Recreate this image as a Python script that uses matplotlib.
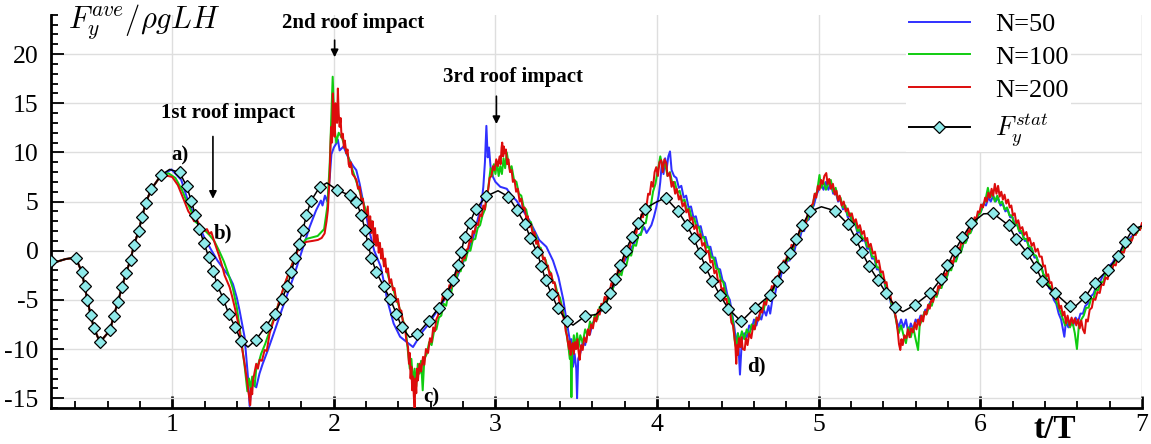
import numpy as np
import matplotlib
matplotlib.use('Agg')
import matplotlib.pyplot as plt
from matplotlib.lines import Line2D

plt.rcParams['font.family'] = ['Liberation Serif', 'DejaVu Serif']
plt.rcParams['mathtext.fontset'] = 'cm'
plt.rcParams['axes.unicode_minus'] = False

# ---- data (t/T, F_y/rho g L H) ----
# common start: all curves coincide with F_stat up to t~0.93
early = [(0.25, -1.06), (0.29, -1.1), (0.34, -0.85), (0.402, -0.7), (0.441, -2.16),
         (0.458, -3.6), (0.475, -5.0), (0.495, -6.5), (0.516, -7.9), (0.553, -9.3),
         (0.615, -8.1), (0.639, -6.6), (0.664, -5.2), (0.689, -3.7), (0.713, -2.3),
         (0.743, -0.9), (0.763, 0.56), (0.792, 2.0), (0.813, 3.4), (0.837, 4.9),
         (0.871, 6.27), (0.932, 7.7)]

# F_y^stat: symbol positions
stat_sym = [(0.25, -1.06), (0.402, -0.7), (0.441, -2.16), (0.458, -3.6), (0.475, -5.0),
            (0.495, -6.5), (0.516, -7.9), (0.553, -9.3), (0.615, -8.1), (0.639, -6.6),
            (0.664, -5.2), (0.689, -3.7), (0.713, -2.3), (0.743, -0.9), (0.763, 0.56),
            (0.792, 2.0), (0.813, 3.4), (0.837, 4.9), (0.871, 6.27), (0.932, 7.7),
            (1.046, 7.96), (1.089, 6.57), (1.118, 5.1), (1.143, 3.6), (1.168, 2.2),
            (1.196, 0.8), (1.225, -0.6), (1.254, -2.07), (1.279, -3.5), (1.316, -4.9),
            (1.349, -6.4), (1.39, -7.8), (1.427, -9.2), (1.516, -9.1), (1.578, -7.75),
            (1.634, -6.4), (1.679, -4.95), (1.712, -3.6), (1.737, -2.2), (1.760, -0.7),
            (1.782, 0.7), (1.809, 2.1), (1.830, 3.6), (1.858, 5.05), (1.912, 6.47),
            (2.019, 6.2), (2.098, 5.65), (2.139, 5.0), (2.170, 3.6), (2.193, 2.15),
            (2.211, 0.7), (2.232, -0.7), (2.263, -2.2), (2.308, -3.6), (2.35, -4.95),
            (2.387, -6.4), (2.421, -7.8), (2.517, -8.5), (2.589, -7.1), (2.649, -5.8),
            (2.70, -4.4), (2.737, -2.98), (2.766, -1.5), (2.789, -0.1), (2.809, 1.4),
            (2.840, 2.78), (2.877, 4.2), (2.944, 5.55), (3.08, 5.5), (3.133, 4.13),
            (3.183, 2.7), (3.216, 1.3), (3.257, -0.13), (3.284, -1.54), (3.31, -3.0),
            (3.347, -4.4), (3.387, -5.87), (3.442, -7.16), (3.556, -6.65), (3.676, -5.7),
            (3.711, -4.28), (3.742, -2.9), (3.773, -1.5), (3.805, 0.0), (3.845, 1.4),
            (3.883, 2.84), (3.923, 4.26), (4.053, 5.4), (4.129, 4.03), (4.185, 2.6),
            (4.227, 1.25), (4.264, -0.2), (4.299, -1.64), (4.342, -3.07), (4.387, -4.46),
            (4.441, -5.9), (4.521, -7.2), (4.604, -5.83), (4.697, -4.53), (4.742, -3.1),
            (4.779, -1.64), (4.820, -0.27), (4.858, 1.15), (4.899, 2.6), (4.946, 4.0),
            (5.099, 4.07), (5.181, 2.7), (5.229, 1.24), (5.268, -0.15), (5.311, -1.54),
            (5.367, -3.0), (5.419, -4.35), (5.474, -5.7), (5.594, -5.53), (5.691, -4.28),
            (5.755, -2.9), (5.796, -1.5), (5.841, -0.04), (5.889, 1.35), (5.945, 2.78),
            (6.079, 3.8), (6.176, 2.57), (6.223, 1.15), (6.289, -0.2), (6.343, -1.64),
            (6.384, -3.06), (6.465, -4.35), (6.553, -5.65), (6.65, -4.7), (6.708, -3.27),
            (6.79, -1.92), (6.852, -0.56), (6.894, 0.85), (6.945, 2.2)]
# F_y^stat: line points between symbols (extrema)
stat_extra = [(0.29, -1.1), (0.34, -0.85), (0.984, 8.27), (1.469, -9.8), (1.957, 6.9),
              (2.06, 5.9), (2.469, -8.8), (3.016, 6.1), (3.48, -7.57), (3.62, -6.5),
              (3.99, 4.9), (5.017, 4.47), (5.522, -6.2), (6.02, 3.75), (6.574, -5.87),
              (7.0, 2.5)]

n50 = [(0.96, 7.9), (0.995, 8.27), (1.056, 7.2), (1.097, 5.1), (1.159, 2.78), (1.20, 1.3),
       (1.242, 0.06), (1.28, -1.0), (1.324, -2.0), (1.355, -2.7), (1.376, -3.4), (1.40, -4.8),
       (1.417, -6.1), (1.448, -8.8), (1.469, -12.9), (1.479, -15.8), (1.49, -14.0), (1.50, -13.5),
       (1.52, -13.9), (1.54, -12.5), (1.56, -11.5), (1.59, -10.2), (1.62, -8.8), (1.685, -5.7),
       (1.75, -2.7), (1.81, 0.36), (1.85, 2.4), (1.89, 4.1), (1.92, 5.1), (1.93, 4.6),
       (1.945, 5.6), (1.96, 5.0), (1.975, 7.5), (1.985, 9.8), (2.0, 10.5), (2.015, 10.9),
       (2.025, 11.3), (2.036, 10.2), (2.06, 10.6), (2.08, 9.8), (2.098, 9.2), (2.12, 8.6),
       (2.139, 8.2), (2.16, 6.8), (2.18, 5.1), (2.20, 3.6), (2.22, 2.0), (2.25, 0.0),
       (2.29, -1.6), (2.31, -3.2), (2.33, -5.0), (2.37, -7.4), (2.41, -8.75), (2.46, -9.4),
       (2.49, -9.8), (2.52, -9.0), (2.55, -8.2), (2.58, -7.6), (2.62, -6.6), (2.66, -5.6),
       (2.70, -4.6), (2.73, -3.8), (2.76, -2.8), (2.80, -1.2), (2.83, 0.0), (2.86, 1.2),
       (2.88, 2.5), (2.90, 3.8), (2.915, 5.0), (2.925, 6.5), (2.935, 9.0), (2.944, 12.7),
       (2.952, 9.5), (2.96, 10.5), (2.97, 8.5), (2.985, 7.5), (3.0, 7.0), (3.03, 6.5),
       (3.07, 6.3), (3.10, 5.6), (3.13, 5.1), (3.17, 4.1), (3.21, 3.1), (3.27, 1.1),
       (3.315, 0.4), (3.356, -1.0), (3.39, -2.7), (3.42, -5.0), (3.44, -7.1), (3.46, -9.1),
       (3.47, -9.0), (3.48, -11.8), (3.49, -10.5), (3.50, -12.0), (3.505, -15.0), (3.512, -11.0),
       (3.525, -10.4), (3.54, -9.3), (3.555, -9.6), (3.57, -8.4), (3.585, -8.5), (3.60, -7.4),
       (3.62, -7.0), (3.64, -6.4), (3.66, -6.0), (3.68, -5.2), (3.70, -4.8), (3.72, -4.0),
       (3.74, -3.4), (3.76, -2.6), (3.78, -2.0), (3.80, -1.0), (3.82, -0.5), (3.84, 0.3),
       (3.86, 0.8), (3.88, 1.5), (3.90, 1.8), (3.92, 2.4), (3.935, 1.8), (3.95, 2.2),
       (3.965, 2.6), (3.98, 3.4), (3.995, 4.4), (4.01, 5.6), (4.02, 7.0), (4.03, 9.0),
       (4.04, 7.8), (4.05, 9.4), (4.06, 8.4), (4.07, 9.6), (4.08, 10.1), (4.09, 8.2),
       (4.105, 7.6), (4.12, 7.4), (4.135, 6.4), (4.15, 6.6), (4.165, 5.4), (4.18, 5.6),
       (4.195, 4.4), (4.21, 4.5), (4.225, 3.4), (4.24, 3.5), (4.255, 2.4), (4.27, 2.5),
       (4.285, 1.4), (4.30, 1.4), (4.315, 0.4), (4.33, 0.4), (4.345, -0.7), (4.36, -0.7),
       (4.375, -1.8), (4.39, -1.9), (4.405, -3.0), (4.42, -3.3), (4.435, -4.5), (4.45, -5.0),
       (4.465, -6.4), (4.48, -8.0), (4.49, -9.6), (4.50, -8.4), (4.513, -12.6), (4.525, -9.0),
       (4.54, -8.4), (4.555, -8.8), (4.57, -7.6), (4.585, -8.0), (4.60, -7.0), (4.615, -7.6),
       (4.63, -6.6), (4.645, -7.0), (4.66, -6.0), (4.675, -6.6), (4.69, -5.6), (4.70, -6.4),
       (4.715, -4.8), (4.73, -4.4), (4.745, -3.2), (4.76, -3.0), (4.775, -2.0), (4.79, -2.0),
       (4.805, -1.0), (4.82, -1.0), (4.835, 0.0), (4.85, 0.0), (4.865, 1.0), (4.88, 1.0),
       (4.895, 2.0), (4.91, 2.0), (4.925, 3.0), (4.94, 3.2), (4.955, 4.2), (4.97, 4.6),
       (4.985, 5.6), (5.0, 6.2), (5.015, 6.8), (5.03, 6.2), (5.045, 7.0), (5.06, 6.2),
       (5.075, 6.8), (5.09, 5.8), (5.105, 6.0), (5.12, 5.0), (5.135, 5.2), (5.15, 4.2),
       (5.165, 4.4), (5.18, 3.4), (5.195, 3.6), (5.21, 2.6), (5.225, 2.8), (5.24, 1.8),
       (5.255, 2.0), (5.27, 1.0), (5.285, 1.1), (5.30, 0.2), (5.315, 0.2), (5.33, -0.8),
       (5.345, -0.8), (5.36, -1.9), (5.375, -1.9), (5.39, -3.0), (5.405, -3.1), (5.42, -4.2),
       (5.435, -4.4), (5.45, -5.6), (5.465, -6.0), (5.48, -7.0), (5.495, -7.8), (5.51, -7.0),
       (5.525, -7.8), (5.54, -7.0), (5.555, -8.4), (5.57, -7.4), (5.585, -8.0), (5.60, -7.0),
       (5.615, -7.4), (5.63, -6.6), (5.645, -6.8), (5.66, -6.0), (5.675, -6.0), (5.69, -5.2),
       (5.705, -5.2), (5.72, -4.4), (5.735, -4.4), (5.75, -3.5), (5.765, -3.5), (5.78, -2.6),
       (5.795, -2.6), (5.81, -1.7), (5.825, -1.7), (5.84, -0.8), (5.855, -0.8), (5.87, 0.1),
       (5.885, 0.1), (5.90, 1.0), (5.915, 1.0), (5.93, 1.9), (5.945, 2.0), (5.96, 2.9),
       (5.975, 3.0), (5.99, 3.8), (6.005, 4.0), (6.02, 4.8), (6.035, 4.6), (6.05, 5.4),
       (6.065, 5.0), (6.08, 5.6), (6.095, 5.0), (6.11, 5.4), (6.125, 4.6), (6.14, 4.8),
       (6.155, 4.0), (6.17, 4.2), (6.185, 3.4), (6.20, 3.4), (6.215, 2.6), (6.23, 2.6),
       (6.245, 1.8), (6.26, 1.8), (6.275, 1.0), (6.29, 1.0), (6.305, 0.2), (6.32, 0.2),
       (6.335, -0.7), (6.35, -0.7), (6.365, -1.6), (6.38, -1.7), (6.395, -2.7), (6.41, -2.8),
       (6.425, -3.8), (6.44, -4.0), (6.455, -5.0), (6.47, -5.4), (6.485, -6.4), (6.50, -7.0),
       (6.52, -8.75), (6.53, -7.2), (6.545, -7.8), (6.56, -7.0), (6.575, -7.6), (6.59, -6.8),
       (6.605, -7.2), (6.62, -6.4), (6.635, -6.4), (6.65, -5.6), (6.665, -5.4), (6.68, -4.7),
       (6.70, -4.4), (6.72, -3.5), (6.74, -3.2), (6.76, -2.5), (6.78, -2.2), (6.80, -1.5),
       (6.82, -1.2), (6.84, -0.5), (6.86, -0.3), (6.88, 0.4), (6.90, 0.7), (6.92, 1.2),
       (6.94, 1.5), (6.96, 1.9), (6.98, 2.2), (7.0, 2.6)]

n100 = [(0.978, 7.87), (1.02, 7.4), (1.06, 6.2), (1.09, 5.0), (1.118, 4.0), (1.139, 3.0),
        (1.17, 2.6), (1.20, 2.1), (1.23, 1.6), (1.26, 1.0), (1.29, 0.0), (1.32, -1.1),
        (1.35, -2.5), (1.375, -3.8), (1.40, -5.8), (1.427, -9.0), (1.45, -12.0), (1.465, -14.3),
        (1.475, -13.0), (1.485, -14.0), (1.495, -12.8), (1.51, -13.8), (1.52, -12.0),
        (1.535, -11.4), (1.55, -10.5), (1.575, -9.5), (1.60, -8.3), (1.65, -5.8), (1.70, -3.3),
        (1.75, -1.0), (1.78, 0.3), (1.83, 1.2), (1.90, 1.5), (1.94, 2.2), (1.96, 4.5),
        (1.975, 9.0), (1.985, 14.0), (1.993, 17.7), (2.0, 14.5), (2.008, 12.0), (2.015, 11.0),
        (2.03, 12.0), (2.05, 11.5), (2.07, 10.5), (2.09, 9.5), (2.12, 8.0), (2.15, 6.5),
        (2.18, 5.0), (2.21, 3.5), (2.23, 3.0), (2.25, 1.8), (2.27, 1.2), (2.30, -0.7),
        (2.32, -1.5), (2.34, -2.8), (2.36, -3.5), (2.38, -4.6), (2.40, -5.5), (2.42, -6.6),
        (2.445, -8.0), (2.46, -10.5), (2.47, -12.0), (2.48, -11.0), (2.49, -13.5), (2.50, -12.0),
        (2.51, -13.8), (2.52, -11.5), (2.53, -12.5), (2.54, -11.2), (2.55, -14.2), (2.56, -11.0),
        (2.575, -10.5), (2.59, -9.3), (2.605, -9.6), (2.62, -8.2), (2.635, -8.0), (2.65, -6.8),
        (2.665, -6.6), (2.68, -5.4), (2.695, -5.6), (2.71, -4.2), (2.725, -4.4), (2.74, -3.0),
        (2.755, -3.2), (2.77, -2.0), (2.785, -2.1), (2.80, -0.9), (2.815, -1.0), (2.83, 0.0),
        (2.845, 0.0), (2.86, 1.1), (2.875, 1.2), (2.89, 2.3), (2.905, 2.6), (2.92, 3.6),
        (2.935, 4.2), (2.95, 5.6), (2.96, 7.0), (2.97, 8.4), (2.98, 7.6), (2.99, 8.8),
        (3.00, 7.8), (3.01, 9.0), (3.02, 7.6), (3.03, 8.6), (3.04, 7.8), (3.05, 9.4),
        (3.06, 8.4), (3.07, 10.0), (3.08, 9.0), (3.09, 8.2), (3.10, 8.6), (3.115, 7.2),
        (3.13, 7.0), (3.145, 5.8), (3.16, 5.6), (3.175, 4.4), (3.19, 4.2), (3.205, 3.0),
        (3.22, 2.9), (3.235, 1.7), (3.25, 1.6), (3.265, 0.4), (3.28, 0.3), (3.295, -0.8),
        (3.31, -0.9), (3.325, -1.9), (3.34, -2.2), (3.355, -3.1), (3.37, -3.4), (3.385, -4.4),
        (3.40, -4.8), (3.415, -6.0), (3.43, -7.0), (3.44, -8.5), (3.45, -9.5), (3.46, -11.0),
        (3.465, -9.5), (3.47, -14.9), (3.475, -10.5), (3.485, -8.6), (3.495, -10.0),
        (3.505, -8.4), (3.515, -9.8), (3.525, -8.6), (3.54, -9.4), (3.555, -8.0), (3.57, -8.6),
        (3.585, -7.2), (3.60, -7.8), (3.615, -6.5), (3.63, -7.0), (3.645, -5.7), (3.66, -6.1),
        (3.675, -4.9), (3.69, -5.2), (3.705, -4.0), (3.72, -4.4), (3.735, -3.2), (3.75, -3.4),
        (3.765, -2.2), (3.78, -2.5), (3.795, -1.3), (3.81, -1.5), (3.825, -0.4), (3.84, -0.5),
        (3.855, 0.6), (3.87, 0.5), (3.885, 1.6), (3.90, 1.6), (3.915, 2.8), (3.93, 2.8),
        (3.945, 4.2), (3.96, 4.4), (3.975, 6.0), (3.99, 6.8), (4.005, 8.2), (4.02, 9.6),
        (4.035, 8.4), (4.05, 8.8), (4.065, 7.6), (4.08, 8.0), (4.095, 6.8), (4.11, 7.0),
        (4.125, 5.9), (4.14, 6.1), (4.155, 5.0), (4.17, 5.2), (4.185, 4.1), (4.20, 4.3),
        (4.215, 3.2), (4.23, 3.3), (4.245, 2.3), (4.26, 2.4), (4.275, 1.3), (4.29, 1.4),
        (4.305, 0.3), (4.32, 0.4), (4.335, -0.7), (4.35, -0.7), (4.365, -1.8), (4.38, -1.9),
        (4.395, -3.0), (4.41, -3.2), (4.425, -4.4), (4.44, -4.8), (4.455, -6.0), (4.47, -7.2),
        (4.48, -9.0), (4.49, -10.0), (4.50, -8.4), (4.51, -9.2), (4.525, -8.2), (4.54, -9.0),
        (4.555, -8.0), (4.57, -8.6), (4.585, -7.5), (4.60, -8.0), (4.615, -6.8), (4.63, -7.0),
        (4.645, -5.8), (4.66, -6.0), (4.675, -4.9), (4.69, -5.0), (4.705, -3.9), (4.72, -4.0),
        (4.735, -2.9), (4.75, -3.0), (4.765, -1.9), (4.78, -2.0), (4.795, -0.9), (4.81, -1.0),
        (4.825, 0.1), (4.84, 0.0), (4.855, 1.0), (4.87, 1.0), (4.885, 2.0), (4.90, 2.0),
        (4.915, 3.0), (4.93, 3.1), (4.945, 4.1), (4.96, 4.4), (4.975, 5.6), (4.99, 6.0),
        (5.005, 7.7), (5.015, 6.4), (5.03, 7.0), (5.045, 6.2), (5.06, 6.8), (5.075, 7.2),
        (5.09, 6.0), (5.105, 6.4), (5.12, 5.2), (5.135, 5.4), (5.15, 4.4), (5.165, 4.6),
        (5.18, 3.6), (5.195, 3.8), (5.21, 2.8), (5.225, 3.0), (5.24, 2.0), (5.255, 2.2),
        (5.27, 1.2), (5.285, 1.3), (5.30, 0.4), (5.315, 0.4), (5.33, -0.6), (5.345, -0.6),
        (5.36, -1.7), (5.375, -1.7), (5.39, -2.8), (5.405, -2.9), (5.42, -4.0), (5.435, -4.2),
        (5.45, -5.4), (5.465, -5.8), (5.48, -7.2), (5.495, -8.4), (5.51, -7.6), (5.525, -8.6),
        (5.54, -9.4), (5.555, -7.8), (5.57, -8.8), (5.585, -7.8), (5.60, -9.0), (5.615, -10.1),
        (5.625, -7.6), (5.64, -7.0), (5.655, -6.2), (5.67, -6.4), (5.685, -5.4), (5.70, -5.6),
        (5.715, -4.6), (5.73, -4.7), (5.745, -3.7), (5.76, -3.8), (5.775, -2.8), (5.79, -2.9),
        (5.805, -1.9), (5.82, -2.0), (5.835, -1.0), (5.85, -1.1), (5.865, -0.1), (5.88, -0.2),
        (5.895, 0.8), (5.91, 0.8), (5.925, 1.7), (5.94, 1.8), (5.955, 2.7), (5.97, 2.8),
        (5.985, 3.6), (6.00, 3.8), (6.015, 4.6), (6.03, 5.0), (6.047, 6.4), (6.06, 5.4),
        (6.075, 5.8), (6.09, 5.0), (6.105, 5.6), (6.12, 4.8), (6.135, 5.0), (6.15, 4.2),
        (6.165, 4.4), (6.18, 3.6), (6.195, 3.6), (6.21, 2.7), (6.225, 2.8), (6.24, 2.0),
        (6.255, 2.0), (6.27, 1.2), (6.285, 1.2), (6.30, 0.4), (6.315, 0.4), (6.33, -0.4),
        (6.345, -0.5), (6.36, -1.3), (6.375, -1.5), (6.39, -2.4), (6.405, -2.6), (6.42, -3.4),
        (6.435, -3.7), (6.45, -4.4), (6.465, -4.9), (6.48, -5.6), (6.495, -6.2), (6.51, -6.9),
        (6.525, -7.6), (6.54, -7.0), (6.555, -7.8), (6.57, -7.2), (6.585, -8.4), (6.598, -10.0),
        (6.61, -7.6), (6.625, -7.0), (6.64, -6.6), (6.655, -5.8), (6.67, -5.8), (6.685, -4.9),
        (6.70, -4.9), (6.715, -4.0), (6.73, -4.0), (6.745, -3.2), (6.76, -3.2), (6.775, -2.4),
        (6.79, -2.4), (6.805, -1.6), (6.82, -1.6), (6.835, -0.9), (6.85, -0.9), (6.865, -0.1),
        (6.88, -0.2), (6.895, 0.6), (6.91, 0.5), (6.925, 1.2), (6.94, 1.2), (6.955, 1.9),
        (6.97, 1.8), (6.985, 2.4), (7.0, 2.3)]

n200 = [(0.975, 7.6), (1.0, 7.5), (1.035, 6.67), (1.077, 4.97), (1.10, 4.0), (1.118, 3.6),
        (1.135, 3.0), (1.149, 3.27), (1.17, 2.6), (1.20, 2.0), (1.215, 2.2), (1.23, 1.7),
        (1.242, 1.9), (1.255, 1.2), (1.267, 0.6), (1.29, -0.5), (1.31, -1.6), (1.324, -2.5),
        (1.355, -3.7), (1.37, -4.6), (1.386, -5.7), (1.41, -7.5), (1.427, -9.4), (1.448, -11.5),
        (1.465, -13.5), (1.483, -15.7), (1.488, -14.0), (1.495, -14.6), (1.50, -13.2),
        (1.52, -11.5), (1.53, -12.0), (1.541, -11.1), (1.555, -11.2), (1.572, -10.1),
        (1.585, -10.2), (1.603, -8.4), (1.63, -7.0), (1.665, -5.0), (1.70, -3.2), (1.727, -2.0),
        (1.755, -0.9), (1.778, 0.06), (1.80, 0.6), (1.83, 0.9), (1.87, 1.0), (1.902, 1.1),
        (1.925, 1.3), (1.943, 1.76), (1.955, 3.0), (1.963, 4.1), (1.974, 7.5), (1.979, 10.5),
        (1.984, 12.6), (1.989, 11.0), (1.994, 16.0), (1.999, 13.5), (2.005, 11.6), (2.010, 15.0),
        (2.015, 14.3), (2.020, 13.0), (2.025, 16.5), (2.030, 14.0), (2.036, 12.6), (2.042, 13.5),
        (2.048, 11.5), (2.056, 11.9), (2.062, 10.5), (2.068, 11.2), (2.077, 9.9), (2.085, 10.3),
        (2.092, 8.8), (2.098, 8.5), (2.105, 9.0), (2.115, 7.8), (2.129, 7.5), (2.14, 7.2),
        (2.15, 6.3), (2.16, 6.5), (2.17, 5.1), (2.18, 5.3), (2.19, 3.9), (2.201, 3.45),
        (2.21, 4.5), (2.218, 2.2), (2.225, 3.5), (2.232, 1.8), (2.24, 3.0), (2.248, 0.8),
        (2.255, 2.3), (2.262, 0.5), (2.27, 1.6), (2.278, -0.2), (2.285, 0.8), (2.293, -0.8),
        (2.30, 0.2), (2.31, -1.6), (2.318, -0.8), (2.325, -2.2), (2.335, -1.8), (2.345, -3.3),
        (2.355, -2.9), (2.366, -4.0), (2.375, -3.8), (2.387, -5.2), (2.397, -4.9), (2.407, -6.0),
        (2.418, -6.1), (2.428, -7.3), (2.438, -7.4), (2.448, -9.0), (2.459, -9.8), (2.465, -11.5),
        (2.47, -10.4), (2.475, -13.0), (2.48, -11.8), (2.485, -14.2), (2.49, -12.8),
        (2.495, -14.8), (2.50, -16.0), (2.505, -13.0), (2.51, -14.5), (2.515, -12.0),
        (2.52, -13.2), (2.53, -11.5), (2.54, -12.3), (2.552, -10.8), (2.56, -11.6), (2.57, -10.0),
        (2.583, -10.4), (2.595, -8.9), (2.605, -9.3), (2.615, -7.8), (2.625, -8.2), (2.634, -7.0),
        (2.645, -6.6), (2.655, -5.5), (2.665, -5.4), (2.675, -4.6), (2.685, -5.0), (2.696, -4.2),
        (2.705, -4.5), (2.715, -3.5), (2.725, -3.8), (2.735, -2.8), (2.745, -3.2), (2.758, -2.1),
        (2.77, -2.2), (2.78, -1.2), (2.79, -1.5), (2.80, -0.5), (2.81, -0.8), (2.82, 0.1),
        (2.83, 0.2), (2.84, 1.0), (2.85, 0.9), (2.86, 2.0), (2.87, 1.8), (2.882, 2.8),
        (2.893, 2.6), (2.905, 3.7), (2.915, 3.5), (2.925, 4.6), (2.935, 4.2), (2.945, 5.8),
        (2.955, 6.2), (2.964, 7.4), (2.975, 7.6), (2.985, 8.6), (2.995, 8.2), (3.005, 9.3),
        (3.015, 8.6), (3.026, 9.6), (3.032, 8.8), (3.038, 10.5), (3.042, 11.0), (3.048, 9.6),
        (3.052, 10.6), (3.057, 9.9), (3.065, 10.3), (3.072, 8.8), (3.08, 9.3), (3.09, 8.0),
        (3.10, 8.2), (3.108, 7.0), (3.118, 7.2), (3.128, 6.0), (3.138, 6.3), (3.15, 5.0),
        (3.16, 5.3), (3.17, 4.2), (3.18, 4.4), (3.191, 3.3), (3.20, 3.5), (3.21, 2.4),
        (3.22, 2.7), (3.232, 1.6), (3.242, 1.9), (3.252, 0.7), (3.263, 1.0), (3.274, -0.1),
        (3.285, 0.1), (3.295, -0.9), (3.305, -0.7), (3.315, -1.6), (3.325, -1.5), (3.335, -2.5),
        (3.345, -2.3), (3.356, -3.3), (3.366, -3.2), (3.377, -4.3), (3.387, -4.3), (3.397, -5.3),
        (3.407, -5.5), (3.417, -6.6), (3.428, -7.2), (3.435, -8.2), (3.442, -8.6), (3.449, -9.4),
        (3.455, -10.0), (3.46, -9.2), (3.465, -10.6), (3.47, -10.0), (3.478, -9.4),
        (3.485, -10.5), (3.492, -9.3), (3.50, -10.0), (3.507, -9.0), (3.514, -10.2),
        (3.521, -11.1), (3.53, -9.6), (3.54, -10.1), (3.55, -8.8), (3.562, -9.3), (3.572, -8.0),
        (3.582, -8.6), (3.592, -7.5), (3.603, -7.9), (3.614, -6.8), (3.624, -7.2), (3.635, -6.0),
        (3.645, -6.5), (3.655, -5.4), (3.665, -5.8), (3.676, -4.7), (3.686, -5.0), (3.696, -4.0),
        (3.706, -4.3), (3.717, -3.3), (3.727, -3.6), (3.737, -2.6), (3.748, -3.0), (3.758, -1.9),
        (3.768, -2.2), (3.779, -1.2), (3.789, -1.5), (3.80, -0.4), (3.81, -0.6), (3.82, 0.3),
        (3.83, 0.3), (3.84, 1.1), (3.851, 0.9), (3.861, 2.0), (3.872, 1.8), (3.882, 2.9),
        (3.893, 2.6), (3.903, 3.7), (3.913, 3.4), (3.923, 4.6), (3.935, 4.6), (3.945, 5.8),
        (3.955, 5.7), (3.965, 7.0), (3.975, 6.5), (3.985, 8.0), (3.995, 8.5), (4.005, 7.6),
        (4.015, 9.0), (4.026, 9.2), (4.035, 8.0), (4.045, 9.3), (4.057, 8.9), (4.065, 7.6),
        (4.078, 7.9), (4.09, 6.5), (4.10, 7.0), (4.112, 5.8), (4.122, 6.3), (4.135, 5.2),
        (4.145, 5.6), (4.158, 4.5), (4.17, 4.9), (4.181, 3.9), (4.192, 4.2), (4.205, 3.1),
        (4.217, 3.4), (4.23, 2.2), (4.243, 2.6), (4.255, 1.4), (4.268, 1.7), (4.28, 0.5),
        (4.292, 0.8), (4.305, -0.2), (4.318, 0.0), (4.33, -1.2), (4.342, -1.0), (4.355, -2.3),
        (4.367, -2.0), (4.378, -3.2), (4.39, -3.0), (4.40, -4.1), (4.41, -3.8), (4.42, -5.0),
        (4.43, -4.9), (4.44, -6.2), (4.45, -6.0), (4.46, -7.3), (4.47, -7.6), (4.478, -8.7),
        (4.485, -9.8), (4.49, -11.5), (4.495, -9.6), (4.50, -10.6), (4.507, -8.9), (4.515, -9.8),
        (4.523, -8.8), (4.53, -10.0), (4.542, -10.1), (4.55, -8.9), (4.56, -9.6), (4.57, -8.4),
        (4.583, -8.9), (4.595, -7.6), (4.605, -8.0), (4.617, -6.8), (4.627, -7.1), (4.64, -6.0),
        (4.65, -6.3), (4.663, -5.2), (4.675, -5.5), (4.687, -4.4), (4.697, -4.7), (4.71, -3.6),
        (4.72, -3.8), (4.733, -2.7), (4.745, -3.0), (4.759, -2.0), (4.77, -2.1), (4.783, -1.0),
        (4.795, -1.3), (4.808, -0.2), (4.82, -0.4), (4.832, 0.6), (4.845, 0.4), (4.857, 1.4),
        (4.87, 1.2), (4.882, 2.1), (4.895, 2.0), (4.907, 3.0), (4.92, 2.8), (4.932, 3.8),
        (4.944, 3.6), (4.955, 4.6), (4.965, 4.8), (4.975, 5.8), (4.985, 5.4), (4.995, 6.6),
        (5.005, 6.2), (5.015, 7.2), (5.025, 6.8), (5.035, 7.6), (5.047, 7.9), (5.055, 6.8),
        (5.065, 7.3), (5.075, 6.3), (5.088, 6.8), (5.10, 5.7), (5.11, 6.1), (5.12, 5.1),
        (5.13, 5.6), (5.142, 4.6), (5.155, 5.0), (5.167, 4.0), (5.18, 4.3), (5.192, 3.5),
        (5.205, 3.8), (5.218, 2.9), (5.23, 3.2), (5.243, 2.3), (5.255, 2.6), (5.268, 1.7),
        (5.28, 2.0), (5.29, 1.0), (5.30, 1.3), (5.31, 0.4), (5.322, 0.7), (5.336, -0.3),
        (5.348, -0.1), (5.36, -1.2), (5.372, -1.0), (5.385, -2.2), (5.397, -2.1), (5.41, -3.3),
        (5.42, -3.2), (5.429, -4.3), (5.44, -4.2), (5.45, -5.2), (5.46, -5.3), (5.47, -6.2),
        (5.48, -7.0), (5.49, -8.3), (5.497, -9.5), (5.505, -10.1), (5.512, -9.0), (5.52, -9.6),
        (5.53, -8.6), (5.542, -8.9), (5.552, -8.0), (5.562, -8.8), (5.572, -7.9), (5.584, -8.3),
        (5.595, -7.3), (5.605, -8.0), (5.615, -7.0), (5.625, -7.6), (5.636, -6.6), (5.646, -7.2),
        (5.656, -6.2), (5.666, -6.5), (5.677, -5.5), (5.687, -5.9), (5.698, -4.9), (5.708, -5.2),
        (5.72, -4.2), (5.73, -4.5), (5.74, -3.6), (5.75, -3.8), (5.76, -2.9), (5.77, -3.2),
        (5.78, -2.3), (5.79, -2.5), (5.80, -1.6), (5.81, -1.9), (5.82, -1.0), (5.831, -1.3),
        (5.842, -0.4), (5.853, -0.5), (5.863, 0.3), (5.873, 0.1), (5.883, 0.9), (5.893, 0.7),
        (5.903, 1.5), (5.913, 1.3), (5.924, 2.1), (5.934, 1.9), (5.944, 2.8), (5.955, 2.6),
        (5.965, 3.4), (5.975, 3.2), (5.985, 4.0), (5.995, 3.9), (6.005, 4.7), (6.017, 4.4),
        (6.03, 5.4), (6.04, 5.0), (6.05, 5.9), (6.06, 5.4), (6.07, 6.3), (6.08, 5.6),
        (6.09, 6.8), (6.10, 5.8), (6.11, 6.6), (6.12, 5.5), (6.13, 6.0), (6.14, 5.2),
        (6.15, 5.7), (6.161, 4.8), (6.172, 5.2), (6.182, 4.4), (6.192, 4.6), (6.202, 3.6),
        (6.213, 3.8), (6.223, 2.8), (6.235, 3.1), (6.247, 2.2), (6.26, 2.4), (6.272, 1.6),
        (6.285, 1.9), (6.297, 1.0), (6.305, 1.3), (6.318, 0.5), (6.33, 0.8), (6.342, -0.1),
        (6.355, 0.2), (6.367, -0.6), (6.38, -0.6), (6.39, -1.6), (6.40, -1.5), (6.41, -2.6),
        (6.42, -2.4), (6.43, -3.3), (6.44, -3.2), (6.45, -4.2), (6.46, -4.0), (6.47, -5.0),
        (6.48, -4.8), (6.49, -5.9), (6.50, -5.6), (6.511, -6.6), (6.52, -6.2), (6.53, -7.4),
        (6.54, -6.6), (6.553, -7.6), (6.565, -6.8), (6.575, -7.4), (6.585, -6.9), (6.594, -7.6),
        (6.605, -7.0), (6.615, -7.9), (6.625, -7.1), (6.635, -8.0), (6.646, -8.4), (6.655, -7.0),
        (6.665, -7.2), (6.677, -6.0), (6.69, -5.8), (6.70, -4.9), (6.712, -5.0), (6.725, -4.2),
        (6.739, -4.3), (6.75, -3.4), (6.763, -3.5), (6.775, -2.7), (6.788, -2.9), (6.80, -2.0),
        (6.812, -2.1), (6.825, -1.4), (6.838, -1.5), (6.85, -0.7), (6.862, -0.8), (6.875, -0.1),
        (6.888, -0.2), (6.90, 0.5), (6.912, 0.4), (6.925, 1.1), (6.937, 1.0), (6.95, 1.7),
        (6.962, 1.6), (6.975, 2.3), (6.988, 2.1), (7.0, 2.8)]

labels = ['N=50', 'N=100', 'N=200']
colors = ['#3030ff', '#10cc10', '#dd0c0c']

# annotations: (text, text x, text y, arrow x, arrow start y, arrow tip y)
impacts = [('1st roof impact', 1.343, 14.0, 1.252, 11.9, 5.0),
           ('2nd roof impact', 2.117, 23.2, 2.005, 21.7, 19.4),
           ('3rd roof impact', 3.107, 17.7, 3.006, 16.0, 12.6)]
marks = [('a)', 1.046, 9.7), ('b)', 1.314, 1.76), ('c)', 2.603, -14.9), ('d)', 4.614, -11.8)]


def xy(pts):
    a = np.array(pts)
    return a[:, 0], a[:, 1]


fig = plt.figure(figsize=(11.51, 4.44), dpi=100)
ax = fig.add_axes([0.0443, 0.0811, 0.9478, 0.8856])

for series, lab, col in zip([n50, n100, n200], labels, colors):
    t, y = xy(early + series)
    ax.plot(t, y, color=col, lw=1.45, label=lab, zorder=3)

st, sy = xy(sorted(stat_sym + stat_extra))
ax.plot(st, sy, color='k', lw=1.1, zorder=4)
mt, my = xy(stat_sym)
ax.plot(mt, my, ls='none', marker='D', ms=5.8, mfc='#8feaea', mec='k', mew=0.9, zorder=5)

ax.set_xlim(0.25, 7)
ax.set_ylim(-16, 24)
ax.set_xticks(np.arange(1, 8))
ax.set_xticks(np.arange(0.4, 7.0, 0.2), minor=True)
ax.set_yticks(np.arange(-15, 21, 5))
ax.set_yticks(np.arange(-16, 25, 1), minor=True)
ax.tick_params(which='both', direction='in', labelsize=18.5, width=1.3, color='k')
ax.tick_params(which='major', length=9)
ax.tick_params(which='minor', length=5)
ax.tick_params(axis='x', which='major', width=2, pad=4)
ax.tick_params(axis='y', which='major', pad=9)
ax.grid(True, which='major', color='#dedede', lw=1)
ax.axvline(7, color='#dedede', lw=1)
for s in ['top', 'right']:
    ax.spines[s].set_visible(False)
for s in ['left', 'bottom']:
    ax.spines[s].set_linewidth(2)

ax.text(0.355, 25.3, r'$F_y^{ave}/\rho g L H$', fontsize=22, va='top', ha='left')
ax.text(6.46, -19.1, 't/T', fontsize=24, fontweight='bold', ha='center', va='baseline',
        clip_on=False)

for txt, tx, ty, ax_x, y0, y1 in impacts:
    ax.text(tx, ty, txt, fontsize=15, fontweight='bold', ha='center', va='center')
    ax.annotate('', xy=(ax_x, y1), xytext=(ax_x, y0),
                arrowprops=dict(arrowstyle='-|>', color='k', lw=1.2, mutation_scale=11))
for txt, tx, ty in marks:
    ax.text(tx, ty, txt, fontsize=15, fontweight='bold', ha='center', va='center', zorder=6)

handles = [Line2D([], [], color=c, lw=1.4) for c in colors]
handles.append(Line2D([], [], color='k', lw=1.4, marker='D', ms=5.8, mfc='#8feaea',
                      mec='k', mew=0.9))
leg = ax.legend(handles, labels + [r'$F_y^{stat}$'], loc='upper left',
                bbox_to_anchor=(0.776, 1.008), bbox_transform=fig.transFigure,
                fontsize=19, frameon=True, facecolor='white', edgecolor='none',
                framealpha=1, fancybox=False, borderpad=0.1, labelspacing=0.36,
                handlelength=2.3, handletextpad=0.95)
leg.set_zorder(10)

fig.savefig('out.png', dpi=100)
